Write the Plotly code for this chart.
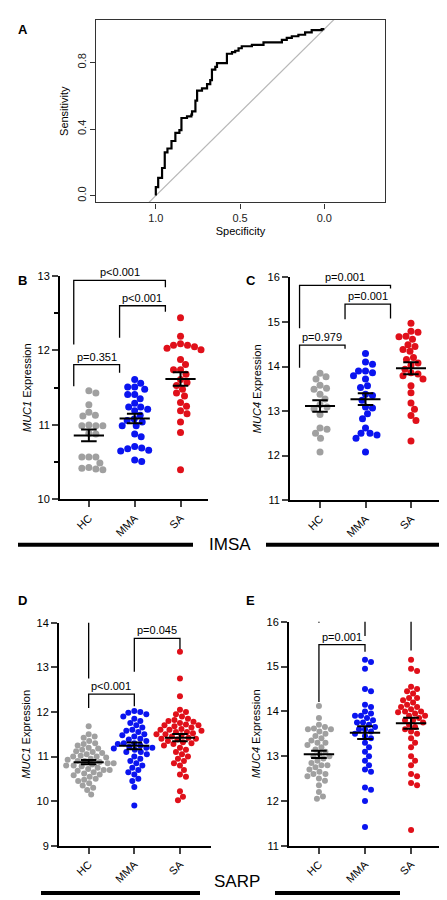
import numpy as np
import plotly.graph_objects as go

W, H = 447, 900
FONT = "Liberation Sans, Arial, sans-serif"

# ---------------- data ----------------
roc_spec = [1.0, 1.0, 0.986, 0.963, 0.947, 0.931, 0.907, 0.884, 0.86, 0.848, 0.815, 0.789, 0.785, 0.765,
            0.755, 0.726, 0.696, 0.677, 0.667, 0.647, 0.637, 0.578, 0.548, 0.529, 0.509, 0.49, 0.43,
            0.361, 0.252, 0.223, 0.193, 0.154, 0.114, 0.075, 0.016, 0.0]
roc_sens = [0.0, 0.051, 0.107, 0.166, 0.26, 0.283, 0.328, 0.377, 0.393, 0.466, 0.476, 0.486, 0.506, 0.571,
            0.63, 0.644, 0.67, 0.694, 0.757, 0.773, 0.796, 0.852, 0.862, 0.87, 0.885, 0.897, 0.905,
            0.92, 0.935, 0.947, 0.957, 0.966, 0.98, 0.994, 1.0, 1.0]

groups = ["HC", "MMA", "SA"]
colors = ["#a0a0a0", "#0a14f0", "#e0101a"]

B_HC = [11.46, 11.43, 11.27, 11.17, 11.13, 11.12, 10.99, 10.99, 11.0, 10.99, 10.88, 10.89, 10.57, 10.57,
        10.57, 10.49, 10.42, 10.43, 10.41, 10.40]
B_MMA = [11.61, 11.56, 11.51, 11.51, 11.48, 11.41, 11.41, 11.35, 11.29, 11.24, 11.24, 11.21, 11.19, 11.13,
         11.08, 11.06, 11.04, 10.99, 10.99, 10.88, 10.84, 10.71, 10.69, 10.68, 10.66, 10.65, 10.53, 10.51]
B_SA = [12.44, 12.19, 12.09, 12.07, 12.07, 12.05, 12.03, 12.01, 11.88, 11.81, 11.74, 11.74, 11.68, 11.61,
        11.57, 11.53, 11.48, 11.43, 11.39, 11.3, 11.25, 11.19, 11.15, 11.04, 10.9, 10.4]

C_HC = [13.85, 13.77, 13.72, 13.58, 13.51, 13.49, 13.38, 13.27, 13.14, 13.09, 13.05, 12.92, 12.59, 12.62,
        12.5, 12.39, 12.08]
C_MMA = [14.29, 14.1, 14.05, 13.9, 13.9, 13.86, 13.79, 13.72, 13.57, 13.53, 13.38, 13.35, 13.24, 13.09,
         13.07, 12.94, 12.83, 12.62, 12.5, 12.5, 12.46, 12.39, 12.08]
C_SA = [14.97, 14.79, 14.77, 14.68, 14.67, 14.61, 14.49, 14.45, 14.38, 14.34, 14.2, 14.16, 14.08, 14.03,
        13.94, 13.86, 13.83, 13.79, 13.72, 13.57, 13.41, 13.18, 13.04, 12.9, 12.79, 12.33]

D_HC = [11.68, 11.5, 11.45, 11.42, 11.35, 11.3, 11.28, 11.25, 11.2, 11.18, 11.15, 11.12, 11.1, 11.08, 11.05,
        11.02, 11.0, 10.98, 10.95, 10.93, 10.9, 10.88, 10.85, 10.85, 10.82, 10.8, 10.78, 10.75, 10.72, 10.7,
        10.68, 10.65, 10.62, 10.6, 10.58, 10.55, 10.5, 10.48, 10.45, 10.4, 10.35, 10.3, 10.25, 10.15,
        11.0, 10.9, 10.8, 10.7]
D_MMA = [12.02, 12.0, 11.98, 11.95, 11.9, 11.85, 11.8, 11.75, 11.7, 11.65, 11.6, 11.58, 11.55, 11.5, 11.48,
         11.45, 11.4, 11.38, 11.35, 11.3, 11.28, 11.25, 11.22, 11.2, 11.18, 11.15, 11.1, 11.05, 11.0, 10.95,
         10.9, 10.85, 10.8, 10.75, 10.7, 10.65, 10.6, 10.5, 10.45, 10.32, 9.9, 11.3, 11.1, 11.2]
D_SA = [13.35, 12.75, 12.35, 12.05, 12.0, 11.95, 11.9, 11.85, 11.82, 11.8, 11.78, 11.75, 11.72, 11.7, 11.68,
        11.65, 11.62, 11.6, 11.58, 11.55, 11.52, 11.5, 11.48, 11.45, 11.42, 11.4, 11.38, 11.35, 11.32, 11.3,
        11.28, 11.25, 11.2, 11.15, 11.1, 11.05, 11.0, 10.95, 10.9, 10.85, 10.8, 10.7, 10.6, 10.55, 10.22,
        10.1, 10.02, 11.6, 11.5, 11.4, 11.7, 11.55]

E_HC = [14.12, 13.85, 13.7, 13.65, 13.62, 13.6, 13.55, 13.5, 13.45, 13.4, 13.35, 13.3, 13.25, 13.2, 13.15,
        13.1, 13.05, 13.0, 12.95, 12.9, 12.85, 12.8, 12.75, 12.7, 12.65, 12.6, 12.55, 12.5, 12.45, 12.35,
        12.2, 12.1, 12.05, 13.6, 13.3, 13.0, 12.8, 12.6]
E_MMA = [15.15, 15.1, 14.95, 14.5, 14.45, 14.15, 14.1, 14.0, 13.95, 13.9, 13.85, 13.8, 13.75, 13.7, 13.65,
         13.6, 13.55, 13.5, 13.45, 13.4, 13.3, 13.2, 13.1, 13.0, 12.9, 12.8, 12.7, 12.65, 12.3, 12.25, 12.0,
         11.42, 13.9, 13.75, 13.6]
E_SA = [15.15, 14.95, 14.9, 14.55, 14.5, 14.45, 14.4, 14.3, 14.25, 14.2, 14.15, 14.1, 14.05, 14.0, 13.98,
        13.95, 13.9, 13.85, 13.8, 13.75, 13.7, 13.65, 13.6, 13.55, 13.5, 13.4, 13.3, 13.2, 13.0, 12.9, 12.8,
        12.6, 12.55, 12.4, 12.35, 11.35, 14.0, 13.8, 14.1, 13.9, 14.3]

# bracket specs: (g1, g2, y_bar, y_leg1, y_leg2, label)
B_br = [(0, 1, 11.81, 11.52, 11.70, "p=0.351"), (1, 2, 12.6, 12.17, 12.52, "p<0.001"),
        (0, 2, 12.94, 12.08, 12.85, "p<0.001")]
C_br = [(0, 1, 14.48, 13.97, 14.40, "p=0.979"), (1, 2, 15.4, 15.06, 15.08, "p=0.001"),
        (0, 2, 15.82, 14.86, 15.75, "p=0.001")]
D_br = [(0, 1, 12.4, 12.09, 12.13, "p<0.001"), (1, 2, 13.65, 12.9, 13.41, "p=0.045"),
        (0, 2, 14.31, 12.75, 14.15, "p<0.001")]
E_br = [(0, 1, 15.49, 14.21, 15.33, "p=0.001"), (1, 2, 16.1, 15.68, 15.36, "p=0.27"),
        (0, 2, 16.72, 15.98, 16.57, "p<0.001")]

# ---------------- layout helpers ----------------
fig = go.Figure()
layout = dict(width=W, height=H, margin=dict(l=0, r=0, t=0, b=0), paper_bgcolor="white",
              plot_bgcolor="white", showlegend=False, font=dict(family=FONT, color="black", size=11))
shapes, annots = [], []

def xd(a, b): return [a / W, b / W]
def yd(top, bot): return [1 - bot / H, 1 - top / H]

# Panel A
layout["xaxis"] = dict(domain=xd(88, 377), range=[1.355, -0.36], tickvals=[1.0, 0.5, 0.0], anchor="y",
                       ticktext=["1.0", "0.5", "0.0"], showline=True, mirror=True, linecolor="#333",
                       linewidth=1.2, ticks="outside", ticklen=5, tickcolor="#333", showgrid=False,
                       zeroline=False, title=dict(text="Specificity", standoff=4, font=dict(size=11)),
                       tickfont=dict(size=11, color="#222"))
layout["yaxis"] = dict(domain=yd(6, 191), range=[-0.041, 1.055], tickvals=[0, 0.4, 0.8], anchor="x",
                       ticktext=["0.0", "0.4", "0.8"], tickangle=-90, showline=True, mirror=True,
                       linecolor="#333", linewidth=1.2, ticks="outside", ticklen=5, tickcolor="#333",
                       showgrid=False, zeroline=False, title=dict(text="Sensitivity", standoff=4, font=dict(size=11)),
                       tickfont=dict(size=11, color="#222"))
dx = np.array([1.355, -0.36])
fig.add_trace(go.Scatter(x=dx, y=1 - dx, mode="lines", line=dict(color="#b8b8b8", width=1.2),
                         xaxis="x", yaxis="y", hoverinfo="skip"))
fig.add_trace(go.Scatter(x=roc_spec, y=roc_sens, mode="lines", line=dict(color="black", width=2.2, shape="hv"),
                         xaxis="x", yaxis="y"))

panels = [
    ("B", [B_HC, B_MMA, B_SA], B_br, (52, 200, 265.5, 492), [-0.63, 2.6], [10, 13], 1, "MUC1", -0.33, True),
    ("C", [C_HC, C_MMA, C_SA], C_br, (282, 433, 267, 492.7), [-0.66, 2.66], [11, 16], 1, "MUC4", -0.45, False),
    ("D", [D_HC, D_MMA, D_SA], D_br, (51, 203, 617, 843), [-0.65, 2.68], [9, 14], 1, "MUC1", 0.0, False),
    ("E", [E_HC, E_MMA, E_SA], E_br, (281, 433, 616, 843), [-0.65, 2.65], [11, 16], 1, "MUC4", 0.0, False),
]

def beeswarm(vals, ppx, ppy, d):
    order = np.argsort(vals)[::-1]
    placed = []
    offs = np.zeros(len(vals))
    cands = [0.0]
    for k in range(1, 80):
        cands += [k * 0.5, -k * 0.5]
    for i in order:
        yp = vals[i] * ppy
        for c in cands:
            if all((c - px) ** 2 + (yp - py) ** 2 >= d * d for px, py in placed):
                offs[i] = c / ppx
                placed.append((c, yp))
                break
    return offs

for n, (lab, data, brs, (x0, x1, y0, y1), xr, yr, dt, gene, legoff, minor_half) in enumerate(panels, start=2):
    xa, ya = f"xaxis{n}", f"yaxis{n}"
    xref, yref = f"x{n}", f"y{n}"
    layout[xa] = dict(domain=xd(x0, x1), range=xr, tickvals=[0, 1, 2], ticktext=groups, tickangle=-45,
                      anchor=yref, showline=True, linecolor="black", linewidth=2, ticks="outside", ticklen=6,
                      tickwidth=2, showgrid=False, zeroline=False, tickfont=dict(size=11))
    ya_d = dict(domain=yd(y0, y1), range=yr, dtick=dt, anchor=xref, showline=True, linecolor="black", linewidth=2,
                ticks="outside", ticklen=6, tickwidth=2, showgrid=False, zeroline=False,
                tickfont=dict(size=11), title=dict(text=f"<i>{gene}</i> Expression", standoff=4, font=dict(size=11)))
    if minor_half:
        ya_d["minor"] = dict(dtick=0.5, ticks="outside", ticklen=4, tickwidth=2, tickcolor="black")
    layout[ya] = ya_d
    ppx = (x1 - x0) / (xr[1] - xr[0])
    ppy = (y1 - y0) / (yr[1] - yr[0])
    d = 7.0 if lab in "BC" else 6.0
    for g, vals in enumerate(data):
        v = np.array(vals)
        offs = beeswarm(v, ppx, ppy, d)
        fig.add_trace(go.Scatter(x=g + offs, y=v, mode="markers", xaxis=xref, yaxis=yref,
                                 marker=dict(color=colors[g], size=d, line=dict(width=0))))
    for g, vals in enumerate(data):
        v = np.array(vals)
        m = v.mean(); s = v.std(ddof=1) / np.sqrt(len(v))
        for xs, ys in [([g - 0.33, g + 0.33], [m, m]), ([g, g], [m - s, m + s]),
                       ([g - 0.17, g + 0.17], [m + s, m + s]), ([g - 0.17, g + 0.17], [m - s, m - s])]:
            fig.add_trace(go.Scatter(x=xs, y=ys, mode="lines", xaxis=xref, yaxis=yref,
                                     line=dict(color="black", width=2), hoverinfo="skip"))
    for g1, g2, yb, l1, l2, txt in brs:
        fig.add_trace(go.Scatter(x=[g1 + legoff, g1 + legoff, g2 + legoff, g2 + legoff], y=[l1, yb, yb, l2],
                                 mode="lines", xaxis=xref, yaxis=yref, cliponaxis=False,
                                 line=dict(color="black", width=1.3), hoverinfo="skip"))
        annots.append(dict(x=(g1 + g2) / 2 + legoff, y=yb, xref=xref, yref=yref, text=txt, showarrow=False,
                           yanchor="bottom", yshift=0, font=dict(size=11)))

# panel letters
for t, x, y in [("A", 8, 6), ("B", 8, 260), ("C", 236, 260), ("D", 8, 585), ("E", 236, 585)]:
    annots.append(dict(x=x / W, y=1 - y / H, xref="paper", yref="paper", text=f"<b>{t}</b>", showarrow=False,
                       xanchor="left", yanchor="top", font=dict(size=13)))

# cohort bars
for (a, b, y) in [(10, 185, 538), (258, 445, 538), (33, 192, 891), (267, 392, 891)]:
    shapes.append(dict(type="line", xref="paper", yref="paper", x0=a / W, x1=b / W, y0=1 - y / H, y1=1 - y / H,
                       line=dict(color="black", width=4)))
for t, x, y in [("IMSA", 222, 538), ("SARP", 229, 891)]:
    annots.append(dict(x=x / W, y=1 - y / H, xref="paper", yref="paper", text=t, showarrow=False,
                       font=dict(size=17)))

layout["shapes"] = shapes
layout["annotations"] = annots
fig.update_layout(**layout)
fig.write_html("out.html")
